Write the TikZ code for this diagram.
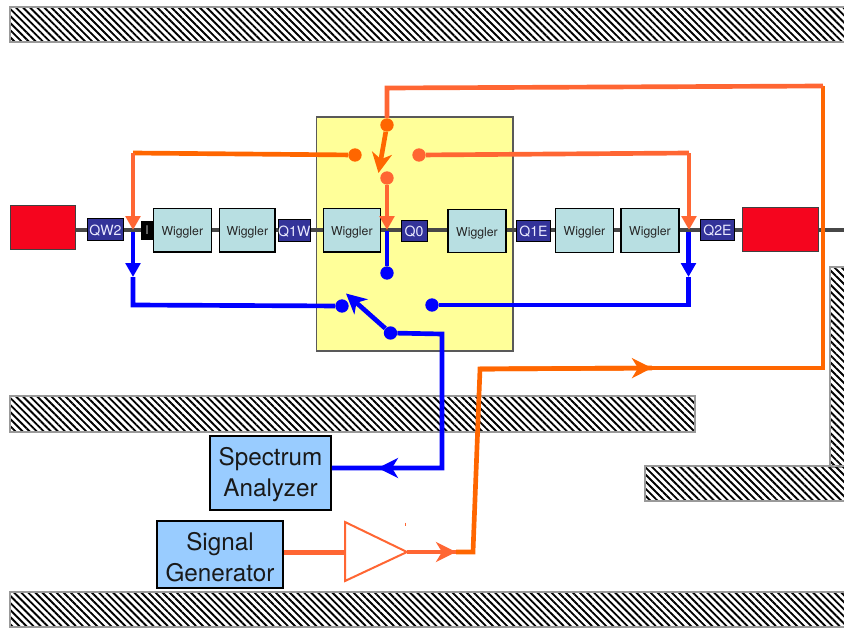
\documentclass[tikz,border=0pt]{standalone}
\usepackage{fontspec}
\setmainfont{TeX Gyre Heros}
\usetikzlibrary{arrows.meta,patterns.meta}
\definecolor{orA}{HTML}{FF6600}
\definecolor{orB}{HTML}{FF6633}
\definecolor{blu}{HTML}{0000FF}
\definecolor{magnet}{HTML}{F5051E}
\definecolor{wigfill}{HTML}{B8DFE2}
\definecolor{quad}{HTML}{333399}
\definecolor{yel}{HTML}{FFFF99}
\definecolor{instr}{HTML}{99CCFF}
\tikzset{
  x=0.75pt,y=-0.75pt,
  wall/.style={draw=black!40,line width=1pt,pattern={Lines[angle=-45,distance=3.75pt,line width=1.4pt]}},
  magnetbox/.style={draw=black!75,line width=0.7pt,fill=magnet,inner sep=0pt},
  wig/.style={draw=black,line width=0.8pt,fill=wigfill,inner sep=0pt,minimum width=43.5pt,minimum height=32.5pt,text height=10pt,text depth=2pt,font=\fontsize{9.2pt}{10pt}\selectfont,text=black!85},
  quadbox/.style={draw=black,line width=0.7pt,fill=quad,inner sep=0pt,minimum height=16pt,text height=8.6pt,text depth=0pt,text=white!92!blue,font=\fontsize{10.6pt}{11pt}\selectfont},
  instrbox/.style={draw=black,line width=1.5pt,fill=instr,inner sep=0pt,align=center,font=\fontsize{18.2pt}{23pt}\selectfont,text=black!90},
  dotA/.style={circle,fill=orA,inner sep=0pt,minimum size=10pt},
  dotB/.style={circle,fill=orB,inner sep=0pt,minimum size=10pt},
  dotC/.style={circle,fill=blu,inner sep=0pt,minimum size=10pt},
  wireA/.style={draw=orA,line width=3.5pt},
  wireB/.style={draw=orB,line width=3.5pt},
  wireC/.style={draw=blu,line width=3.5pt},
  flathead/.style={-{Triangle[length=10.5pt,width=11pt]}},
  barbhead/.style={-{Stealth[length=15pt,width=15pt,inset=4.5pt]}},
}
\begin{document}
\begin{tikzpicture}
\useasboundingbox (0,0) rectangle (844,628);
% walls
\path[wall] (10,7) rectangle (846,42);
\path[wall] (10,396) rectangle (695,432);
\path[wall] (10,592) rectangle (846,627);
\path[wall] (830,267) rectangle (846,467);
\path[wall] (645,466) rectangle (846,501);
% yellow box
\node[draw=black!65,line width=0.9pt,fill=yel,inner sep=0pt,minimum width=147.5pt,minimum height=175.5pt] (yellow) at (414.75,234) {};
% beam line
\coordinate (beamL) at (75,230);
\coordinate (beamR) at (846,230);
\draw[draw=black!72,line width=3.2pt] (beamL) -- (beamR);
% magnets
\node[magnetbox,minimum width=48.75pt,minimum height=32.5pt] (redL) at (42.5,227.3) {};
\node[magnetbox,minimum width=57pt,minimum height=32.5pt] (redR) at (780,229.3) {};
% quads
\node[quadbox,minimum width=27.5pt] (qw2) at (105.5,229.3) {QW2};
\node[draw=black,fill=black,inner sep=0pt,minimum width=8pt,minimum height=13.5pt,text=white!70!black,font=\fontsize{9pt}{10pt}\selectfont] (ibox) at (147,230) {I};
\node[quadbox,minimum width=23.5pt] (q1w) at (294.3,230.3) {Q1W};
\node[quadbox,minimum width=19.5pt] (q0) at (414,230.8) {Q0};
\node[quadbox,minimum width=26pt] (q1e) at (533.5,230.8) {Q1E};
\node[quadbox,minimum width=25pt] (q2e) at (717.5,230) {Q2E};
% wigglers
\node[wig] (w1) at (182.3,230.3) {Wiggler};
\node[wig,minimum width=41.5pt] (w2) at (247.3,230.3) {Wiggler};
\node[wig,minimum width=42.5pt] (w3) at (351.8,230.3) {Wiggler};
\node[wig] (w4) at (477,230.8) {Wiggler};
\node[wig] (w5) at (584.5,230.5) {Wiggler};
\node[wig] (w6) at (650,230.5) {Wiggler};
% instruments
\node[instrbox,minimum width=90.5pt,minimum height=55.5pt] (sa) at (270.5,473) {\rule{0pt}{16pt}Spectrum\\Analyzer};
\node[instrbox,minimum width=94pt,minimum height=50pt] (sg) at (220,554.5) {\rule{0pt}{18pt}Signal\\Generator};
% switch contacts
\node[dotA] (oTop) at (387,125) {};
\node[dotA] (oLeft) at (355,155) {};
\node[dotB] (oRight) at (419,155) {};
\node[dotB] (oMid) at (387,178) {};
\node[dotC] (bMid) at (387,273) {};
\node[dotC] (bLeft) at (342,306) {};
\node[dotC] (bRight) at (432,305) {};
\node[dotC] (bCom) at (390.5,333) {};
% helper points
\coordinate (tipL) at (133,230);
\coordinate (tipM) at (387,230);
\coordinate (tipR) at (689,230);
\coordinate (cornL) at (133,153);
\coordinate (cornR) at (689,153);
\coordinate (tA) at (387,88);
\coordinate (tB) at (823,86);
\coordinate (tC) at (823,368);
\coordinate (tD) at (480,369);
\coordinate (tE) at (473,552);
\coordinate (tipOut) at (652,368);
\coordinate (tipAmp) at (456,552);
\coordinate (tipSw) at (378.5,173);
\coordinate (bcL) at (133,305);
\coordinate (bcR) at (688.5,305);
\coordinate (baL) at (133,277);
\coordinate (baR) at (688.5,277);
\coordinate (bbL) at (133,232);
\coordinate (bbR) at (688.5,232);
\coordinate (bbM) at (387,231);
\coordinate (bSwTip) at (346,293.5);
\coordinate (bA) at (442,334);
\coordinate (bB) at (442,468);
\coordinate (bTip) at (378,468);
% amplifier
\coordinate (ampIn) at (345,552.5);
\coordinate (ampOut) at (407,552);
\draw[draw=orB,line width=1.5pt,fill=white,line join=miter] (345,522) -- (ampOut) -- (345,581) -- cycle;
% orange wires
\draw[wireB] (sg.east |- ampIn) -- (ampIn);
\draw[wireA] (tipAmp) -- (tE) -- (tD) -- (tipOut);
\draw[wireB] (ampOut) -- (tipAmp);
\draw[wireB,barbhead] (ampOut) -- (tipAmp);
\draw[wireA,barbhead] (tD) -- (tipOut);
\draw[wireA] (tipOut) -- (tC) -- (tB);
\draw[wireB] (tB) -- (tA) -- (oTop);
\draw[wireA,barbhead] (oTop) -- (tipSw);
\draw[wireA] (oLeft) -- (cornL);
\draw[wireB,flathead] (cornL) -- (tipL);
\draw[wireB] (oRight) -- (cornR);
\draw[wireB,flathead] (cornR) -- (tipR);
\draw[wireB,flathead] (oMid) -- (tipM);
% blue wires
\draw[wireC] (bbM) -- (bMid);
\draw[wireC,flathead] (bbL) -- (baL);
\draw[wireC] (baL) -- (bcL) -- (bLeft);
\draw[wireC,flathead] (bbR) -- (baR);
\draw[wireC] (baR) -- (bcR) -- (bRight);
\draw[wireC,barbhead] (bCom) -- (bSwTip);
\draw[wireC] (bCom) -- (bA) -- (bB) -- (sa.east |- bB);
\draw[wireC,barbhead] (bB) -- (bTip);
% small tick
\coordinate (tick1) at (405.5,522.5);
\coordinate (tick2) at (405.5,526);
\draw[draw=orB,line width=0.5pt] (tick1) -- (tick2);
\end{tikzpicture}
\end{document}
